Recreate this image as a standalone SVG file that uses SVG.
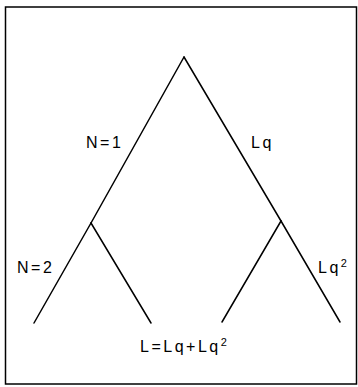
<svg xmlns="http://www.w3.org/2000/svg" width="358" height="387" viewBox="0 0 358 387">
<style>
.e{stroke:#000;stroke-width:1.5;fill:none;stroke-linecap:round}
.t{font-family:"Liberation Sans",Arial,sans-serif;font-size:16px;letter-spacing:2.5px;fill:#000}
.s{font-size:11px;letter-spacing:0}
</style>
<rect x="0" y="0" width="358" height="387" fill="#fff"/>
<rect x="5.5" y="7" width="351" height="377" fill="none" stroke="#000" stroke-width="1.5"/>
<g id="connectors">
<line class="e" x1="184" y1="57" x2="91" y2="223"/>
<line class="e" x1="91" y1="223" x2="34" y2="323"/>
<line class="e" x1="91" y1="223" x2="151" y2="323"/>
<line class="e" x1="184" y1="57" x2="281" y2="221"/>
<line class="e" x1="281" y1="221" x2="340" y2="322"/>
<line class="e" x1="281" y1="221" x2="222" y2="322"/>
</g>
<g id="label-n1"><text class="t" x="86" y="148">N=1</text></g>
<g id="label-lq"><text class="t" x="251" y="148">Lq</text></g>
<g id="label-n2"><text class="t" x="17" y="273">N=2</text></g>
<g id="label-lq2"><text class="t" x="318" y="273">Lq<tspan class="s" dy="-6">2</tspan></text></g>
<g id="label-sum"><text class="t" x="140" y="352">L=Lq+Lq<tspan class="s" dy="-6">2</tspan></text></g>
</svg>
